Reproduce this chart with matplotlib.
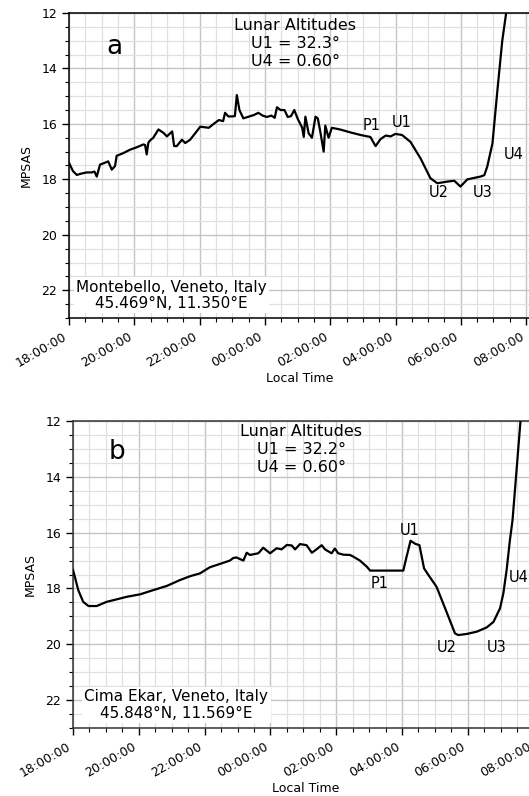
import matplotlib
matplotlib.use("Agg")
import matplotlib.pyplot as plt
from matplotlib.ticker import MultipleLocator, FixedLocator, FixedFormatter

# ---- data: hours after 18:00 local time, sky brightness in MPSAS ----
t_a = [0.0, 0.12, 0.24, 0.35, 0.54, 0.69, 0.78, 0.85, 0.95, 1.1, 1.2, 1.31, 1.41, 1.46, 1.67, 1.87,
       2.08, 2.28, 2.33, 2.38, 2.43, 2.48, 2.58, 2.74, 2.9, 3.0, 3.16, 3.22, 3.3, 3.46, 3.56, 3.71,
       3.87, 4.02, 4.28, 4.43, 4.59, 4.72, 4.78, 4.88, 4.99, 5.08, 5.14, 5.22, 5.34, 5.5, 5.66, 5.8,
       5.93, 6.06, 6.2, 6.3, 6.37, 6.48, 6.6, 6.7, 6.8, 6.9, 7.01, 7.14, 7.19, 7.24, 7.34, 7.44,
       7.55, 7.62, 7.7, 7.8, 7.85, 7.95, 8.05, 8.3, 8.6, 8.93, 9.23, 9.39, 9.54, 9.7, 9.85, 10.0,
       10.2, 10.46, 10.77, 11.07, 11.28, 11.59, 11.8, 11.99, 12.2, 12.4, 12.6, 12.72, 12.81, 12.97,
       13.12, 13.27, 13.37, 13.45]
mag_a = [17.4, 17.7, 17.84, 17.8, 17.75, 17.75, 17.72, 17.9, 17.47, 17.4, 17.35, 17.65, 17.52, 17.15,
         17.05, 16.93, 16.84, 16.74, 16.76, 17.1, 16.68, 16.6, 16.5, 16.2, 16.33, 16.45, 16.27, 16.8,
         16.8, 16.57, 16.69, 16.57, 16.33, 16.1, 16.14, 16.0, 15.86, 15.9, 15.6, 15.73, 15.73, 15.72,
         14.96, 15.5, 15.8, 15.74, 15.68, 15.6, 15.7, 15.75, 15.7, 15.78, 15.4, 15.5, 15.5, 15.75,
         15.72, 15.5, 15.83, 16.13, 16.47, 15.74, 16.34, 16.5, 15.74, 15.8, 16.3, 17.0, 16.06, 16.5,
         16.14, 16.2, 16.3, 16.4, 16.47, 16.8, 16.55, 16.42, 16.45, 16.36, 16.4, 16.65, 17.25, 17.96,
         18.14, 18.08, 18.05, 18.26, 18.0, 17.95, 17.9, 17.85, 17.54, 16.7, 14.8, 13.0, 12.16, 11.5]

t_b = [0.0, 0.06, 0.16, 0.31, 0.47, 0.72, 1.02, 1.33, 1.63, 2.04, 2.44, 2.85, 3.25, 3.56, 3.86, 4.16,
       4.47, 4.77, 4.87, 4.97, 5.08, 5.18, 5.28, 5.38, 5.63, 5.68, 5.78, 5.99, 6.19, 6.34, 6.5, 6.65,
       6.75, 6.9, 7.1, 7.26, 7.4, 7.56, 7.66, 7.86, 7.96, 8.06, 8.22, 8.42, 8.52, 8.72, 8.93, 9.03,
       10.04, 10.14, 10.26, 10.4, 10.53, 10.67, 10.85, 11.05, 11.31, 11.61, 11.71, 11.97, 12.27,
       12.57, 12.78, 12.98, 13.08, 13.18, 13.28, 13.36, 13.6, 13.66]
mag_b = [17.34, 17.6, 18.06, 18.48, 18.63, 18.63, 18.48, 18.39, 18.3, 18.21, 18.06, 17.91, 17.7, 17.56,
         17.46, 17.24, 17.12, 17.0, 16.91, 16.89, 16.95, 17.0, 16.72, 16.8, 16.74, 16.68, 16.54, 16.74,
         16.56, 16.6, 16.44, 16.46, 16.6, 16.41, 16.45, 16.72, 16.6, 16.45, 16.6, 16.74, 16.57, 16.74,
         16.79, 16.8, 16.86, 17.0, 17.22, 17.36, 17.36, 16.86, 16.29, 16.4, 16.45, 17.28, 17.6, 17.94,
         18.71, 19.61, 19.67, 19.63, 19.55, 19.4, 19.2, 18.71, 18.18, 17.34, 16.27, 15.55, 12.02, 11.5]

tick_hours = [0, 2, 4, 6, 8, 10, 12, 14]
tick_labels = ["18:00:00", "20:00:00", "22:00:00", "00:00:00", "02:00:00", "04:00:00",
               "06:00:00", "08:00:00"]
y_ticks = [12, 14, 16, 18, 20, 22]

panel_letters = ["a", "b"]
lunar_texts = ["Lunar Altitudes\nU1 = 32.3°\nU4 = 0.60°", "Lunar Altitudes\nU1 = 32.2°\nU4 = 0.60°"]
site_texts = ["Montebello, Veneto, Italy\n45.469°N, 11.350°E", "Cima Ekar, Veneto, Italy\n45.848°N, 11.569°E"]
event_names = ["P1", "U1", "U2", "U3", "U4"]
event_pos_a = [(9.28, 16.04), (10.2, 15.96), (11.33, 18.49), (12.68, 18.49), (13.63, 17.12)]
event_pos_b = [(9.33, 17.81), (10.24, 15.94), (11.37, 20.1), (12.89, 20.1), (13.55, 17.6)]

W, H = 529, 796
fig = plt.figure(figsize=(W / 100, H / 100), dpi=100)
plt.rcParams['font.family'] = ['DejaVu Sans']

XMAX = 14.15
axes_px = [(69, 478, 14.15 * 32.65, 305), (73, 68, 14.15 * 32.9, 307)]
series = [(t_a, mag_a), (t_b, mag_b)]
events = [event_pos_a, event_pos_b]
lunar_xy = [(0.49, 0.985), (0.49, 0.99)]
letter_xy = [(0.099, 0.889), (0.094, 0.899)]
spine_col = ["black", "#333333"]

for i in range(2):
    l, b, w, h = axes_px[i]
    ax = fig.add_axes([l / W, b / H, w / W, h / H])
    t, m = series[i]
    ax.plot(t, m, color="black", lw=1.6, zorder=3)
    ax.set_xlim(0, XMAX)
    ax.set_ylim(23, 12)
    ax.xaxis.set_major_locator(FixedLocator(tick_hours))
    ax.xaxis.set_major_formatter(FixedFormatter(tick_labels))
    ax.xaxis.set_minor_locator(MultipleLocator(0.5))
    ax.yaxis.set_major_locator(FixedLocator(y_ticks))
    ax.yaxis.set_minor_locator(MultipleLocator(0.5))
    ax.grid(which="minor", color="#e0e0e0", lw=0.9, zorder=0)
    ax.grid(which="major", color="#c4c4c4", lw=1.0, zorder=0)
    ax.set_axisbelow(True)
    ax.tick_params(which="major", length=5, width=1, labelsize=9, direction="out")
    ax.tick_params(which="minor", length=3, width=0.8, direction="out")
    for lab in ax.get_xticklabels():
        lab.set_rotation(30)
        lab.set_ha("right")
    for s in ax.spines.values():
        s.set_color(spine_col[i])
        s.set_linewidth(1.1)
    ax.set_xlabel("Local Time", fontsize=9, labelpad=2)
    ax.set_ylabel("MPSAS", fontsize=9, labelpad=6)
    ax.text(lunar_xy[i][0], lunar_xy[i][1], lunar_texts[i], transform=ax.transAxes,
            ha="center", va="top", fontsize=11.5, linespacing=1.25, zorder=4)
    ax.text(letter_xy[i][0], letter_xy[i][1], panel_letters[i], transform=ax.transAxes,
            ha="center", va="center", fontsize=19, zorder=4)
    ax.text(0.222, 0.075, site_texts[i], transform=ax.transAxes, ha="center", va="center",
            fontsize=11, linespacing=1.1, zorder=4,
            bbox=dict(boxstyle="square,pad=0.15", fc="white", ec="none"))
    for name, (ex, ey) in zip(event_names, events[i]):
        ax.text(ex, ey, name, ha="center", va="center", fontsize=10.5, zorder=4)

fig.savefig("out.png", dpi=100)
